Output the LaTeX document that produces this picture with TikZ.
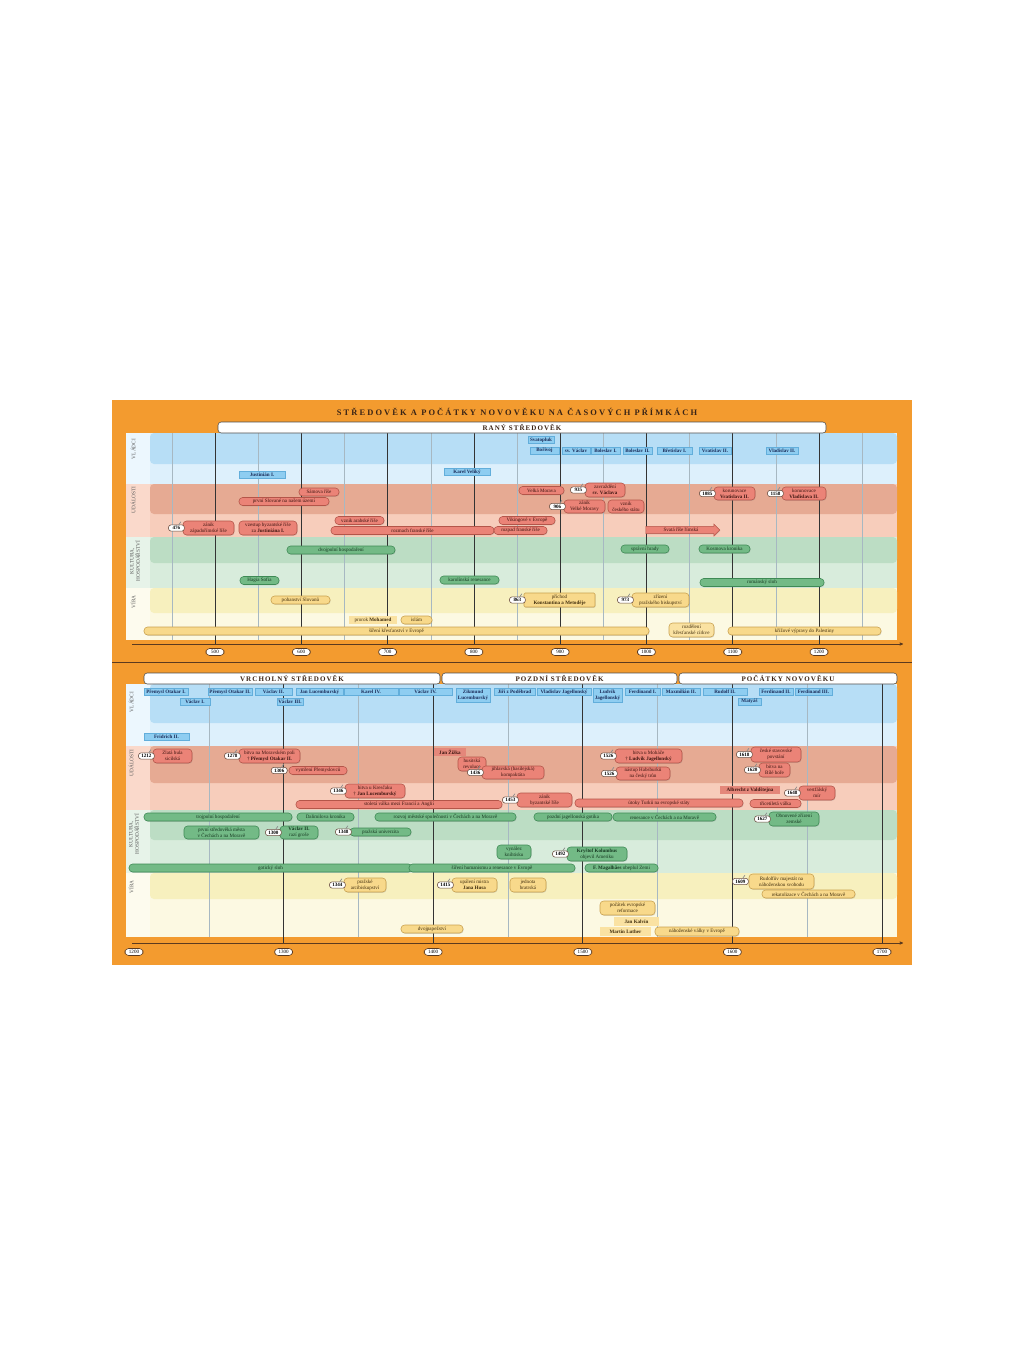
\documentclass[tikz,border=0pt]{standalone}
\usepackage{fontspec}
\setmainfont{Liberation Serif}
\newfontfamily\posterfont[LetterSpace=25]{Liberation Serif}
\newfontfamily\erafont[LetterSpace=15]{Liberation Serif}
\newcommand{\itemfont}{\fontsize{3.6}{4.1}\selectfont}
\newcommand{\rowfont}{\fontsize{3.8}{4.4}\selectfont}
\usepackage{tikz}
\usetikzlibrary{positioning,arrows.meta,shapes.arrows,shadows}

\definecolor{poster}{HTML}{F39B2F}
\definecolor{titletext}{HTML}{3A2416}
\definecolor{boardline}{HTML}{4D4D4D}
\definecolor{rowtext}{HTML}{5A5A5A}
\definecolor{deepblue}{HTML}{B7DEF6}
\definecolor{paleblue}{HTML}{DDF0FC}
\definecolor{labelblue}{HTML}{ECF7FE}
\definecolor{deepred}{HTML}{E6AA93}
\definecolor{palered}{HTML}{F7CDBB}
\definecolor{labelred}{HTML}{FAD9CB}
\definecolor{deepgreen}{HTML}{BCDDC4}
\definecolor{palegreen}{HTML}{D8ECDC}
\definecolor{labelgreen}{HTML}{E7F3E9}
\definecolor{deepyellow}{HTML}{F7F0BE}
\definecolor{paleyellow}{HTML}{FCF9E2}
\definecolor{labelyellow}{HTML}{FDFBEE}
\definecolor{rulerfill}{HTML}{8ECDF1}
\definecolor{rulerline}{HTML}{62AEDB}
\definecolor{rulertext}{HTML}{1C2D5A}
\definecolor{eventfill}{HTML}{EB8377}
\definecolor{eventline}{HTML}{B45549}
\definecolor{eventtext}{HTML}{3E1611}
\definecolor{eventflatfill}{HTML}{E4877A}
\definecolor{culturefill}{HTML}{73BA86}
\definecolor{cultureline}{HTML}{3E8A55}
\definecolor{culturetext}{HTML}{173A22}
\definecolor{faithfill}{HTML}{F8D98B}
\definecolor{faithline}{HTML}{C9A14F}
\definecolor{faithtext}{HTML}{43300F}
\definecolor{faithflatfill}{HTML}{FAE2A2}
\definecolor{tagline}{HTML}{6A4D3F}
\definecolor{clasp}{HTML}{8C8C8C}
\definecolor{axisline}{HTML}{5B3A1F}
\definecolor{gridblack}{HTML}{333333}
\definecolor{gridgrey}{HTML}{A7B8C2}

\tikzset{
    >=Stealth[round],
    span/.style = {minimum width = #1*0.25mm},
    tall/.style = {minimum height = #1*0.25mm},
    entry/.style = {inner sep = 0pt, font = \itemfont, align = center, minimum height = 2mm},
    ruler/.style = {entry, draw = rulerline, fill = rulerfill, text = rulertext,
                    font = \itemfont\bfseries, minimum height = 1.75mm},
    pill/.style = {entry, rounded corners = 0.9mm,
                   drop shadow = {shadow xshift = 0.15mm, shadow yshift = -0.2mm, opacity = 0.25}},
    event/.style = {pill, draw = eventline, fill = eventfill, text = eventtext},
    eventflat/.style = {entry, fill = eventflatfill, text = eventtext, font = \itemfont\bfseries},
    culture/.style = {pill, draw = cultureline, fill = culturefill, text = culturetext},
    faith/.style = {pill, draw = faithline, fill = faithfill, text = faithtext},
    faithflat/.style = {entry, fill = faithflatfill, text = faithtext},
    yeartag/.style = {entry, draw = tagline, fill = white, text = black, font = \itemfont\bfseries,
                      rounded corners = 0.7mm, minimum width = 4mm, minimum height = 1.6mm,
                      pin = {[inner sep = 0pt, minimum size = 0pt, pin distance = 0.8mm,
                              pin edge = {draw = clasp, line width = 0.5pt, line cap = round}]55:{}}},
    yearbox/.style = {entry, draw = axisline, fill = white, text = black,
                      rounded corners = 0.9mm, minimum width = 4.5mm, minimum height = 1.75mm},
    eraboard/.style = {draw = boardline, fill = white, rounded corners = 0.8mm, text = titletext,
                       font = {\erafont\bfseries\fontsize{5}{6}\selectfont},
                       minimum height = 2.75mm, inner sep = 0pt},
    rowname/.style = {rotate = 90, font = \rowfont, text = rowtext, align = center, inner sep = 0pt},
    axis/.style = {draw = axisline, line width = 0.5pt, -{Stealth[round, length = 1.2mm, width = 1mm]}},
    centline/.style = {draw = gridblack, line width = 0.45pt},
    halfline/.style = {draw = gridgrey, line width = 0.3pt},
}

\begin{document}
\begin{tikzpicture}[x = 0.25mm, y = -0.25mm]
\useasboundingbox (0,0) rectangle (1024,1365);
\fill[poster] (112,400) rectangle (912,965);

% rows of both panels
\foreach \ya/\yb/\yc/\tone in {433/464/484/blue, 484/514/537/red, 537/563/588/green, 588/613/640/yellow,
                               684/723/746/blue, 746/783/810/red, 810/840/873/green, 873/899/937/yellow} {
    \fill[fill = pale\tone] (126,\ya) rectangle (897,\yc);
    \fill[fill = label\tone] (126,\ya) rectangle (150,\yc);
    \fill[fill = deep\tone, rounded corners = 1mm] (150,\ya) rectangle (897,\yb);
}

% century lines
\foreach \yr in {450,550,...,1250}
    \draw[halfline] ({215+(\yr-500)*0.8629},433) -- ({215+(\yr-500)*0.8629},640);
\foreach \yr in {500,600,...,1200}
    \draw[centline] ({215+(\yr-500)*0.8629},433) -- ({215+(\yr-500)*0.8629},644);
\foreach \yr in {1250,1350,...,1650}
    \draw[halfline] ({134+(\yr-1200)*1.496},684) -- ({134+(\yr-1200)*1.496},937);
\foreach \yr in {1300,1400,...,1700}
    \draw[centline] ({134+(\yr-1200)*1.496},684) -- ({134+(\yr-1200)*1.496},943);

% axes
\coordinate (topstart) at (132,644);
\coordinate (topend) at (903,644);
\coordinate (lowstart) at (132,943);
\coordinate (lowend) at (903,943);
\draw[axis] (topstart) -- (topend);
\draw[axis] (lowstart) -- (lowend);
\draw[axisline, line width = 0.6pt] (112,662) -- (912,662);

\foreach \yr in {500,600,...,1200}
    \node[yearbox] (top\yr) at ({215+(\yr-500)*0.8629},652) {\yr};
\foreach \yr in {1200,1300,...,1700}
    \node[yearbox] (low\yr) at ({134+(\yr-1200)*1.496},952) {\yr};

% headings
\node[font = {\posterfont\bfseries\fontsize{6}{7}\selectfont}, text = titletext] (title) at (517,412)
    {STŘEDOVĚK A POČÁTKY NOVOVĚKU NA ČASOVÝCH PŘÍMKÁCH};
\node[eraboard, span = 608] (rany) at (522,427.5) {RANÝ STŘEDOVĚK};
\node[eraboard, span = 296] (vrcholny) at (292,678.5) {VRCHOLNÝ STŘEDOVĚK};
\node[eraboard, span = 235] (pozdni) at (559.5,678.5) {POZDNÍ STŘEDOVĚK};
\node[eraboard, span = 218] (pocatky) at (788,678.5) {POČÁTKY NOVOVĚKU};

\node[rowname] (vladciA) at (133,449) {VLÁDCI};
\node[rowname] (udalostiA) at (133,500) {UDÁLOSTI};
\node[rowname] (kulturaA) at (135,561) {KULTURA,\\HOSPODÁŘSTVÍ};
\node[rowname] (viraA) at (133,602) {VÍRA};
\node[rowname] (vladciB) at (131,702) {VLÁDCI};
\node[rowname] (udalostiB) at (131,763) {UDÁLOSTI};
\node[rowname] (kulturaB) at (134,834) {KULTURA,\\HOSPODÁŘSTVÍ};
\node[rowname] (viraB) at (131,887) {VÍRA};

% raný středověk -- vládci
\node[ruler, span = 26] (svatopluk) at (541,440) {Svatopluk};
\node[ruler, span = 29] (borivoj) at (544.5,450.5) {Bořivoj};
\node[ruler, span = 28] (svvaclav) at (576,450.5) {sv. Václav};
\node[ruler, span = 29] (boleslav1) at (605.5,450.5) {Boleslav I.};
\node[ruler, span = 29] (boleslav2) at (637.5,450.5) {Boleslav II.};
\node[ruler, span = 35] (bretislav) at (674.5,450.5) {Břetislav I.};
\node[ruler, span = 32] (vratislav) at (715,450.5) {Vratislav II.};
\node[ruler, span = 32] (vladislav) at (782,450.5) {Vladislav II.};
\node[ruler, span = 46] (justinian) at (262,474.5) {Justinián I.};
\node[ruler, span = 46] (karel) at (467,472) {Karel Veliký};

% raný středověk -- události
\node[event, span = 40] (samo) at (319,492) {Sámova říše};
\node[event, span = 90] (slovane) at (284,501.5) {první Slované na našem území};
\node[event, span = 51, tall = 14] (rim) at (208.5,528) {zánik\\západořímské říše};
\node[event, span = 58, tall = 14] (byzanc) at (268,528) {vzestup byzantské říše\\za \textbf{Justiniána I.}};
\node[event, span = 49] (arabove) at (359.5,520.5) {vznik arabské říše};
\node[event, span = 163] (franci) at (412.5,530.5) {rozmach franské říše};
\node[event, span = 56] (vikingove) at (527,520.5) {Vikingové v Evropě};
\node[event, span = 53] (rozpad) at (520.5,530.5) {rozpad franské říše};
\node[event, span = 45] (morava) at (541.5,490.5) {Velká Morava};
\node[event, span = 40, tall = 14] (vrazda) at (605,490) {zavraždění\\\textbf{sv. Václava}};
\node[event, span = 41, tall = 13] (zanikvm) at (584.5,506.5) {zánik\\Velké Moravy};
\node[event, span = 36, tall = 13] (cechy) at (626,506.5) {vznik\\českého státu};
\node[event, single arrow, sharp corners, single arrow head extend = 0.6mm,
      minimum height = 18.5mm, minimum width = 3mm, inner xsep = 1mm, inner ysep = 0.35mm]
    (rise) at (681,530) {Svatá říše římská};
\node[event, span = 41, tall = 13] (kor1085) at (734.5,493.5) {korunovace\\\textbf{Vratislava II.}};
\node[event, span = 44, tall = 13] (kor1158) at (804,493.5) {korunovace\\\textbf{Vladislava II.}};

% raný středověk -- kultura
\node[culture, span = 108] (dvojpole) at (341,550) {dvojpolní hospodaření};
\node[culture, span = 48] (hrady) at (645,549) {správní hrady};
\node[culture, span = 51] (kosmas) at (724.5,549) {Kosmova kronika};
\node[culture, span = 39] (sofia) at (259.5,580.5) {Hagia Sofia};
\node[culture, span = 59] (karolinska) at (469.5,580) {karolínská renesance};
\node[culture, span = 124] (romanika) at (762,582.5) {románský sloh};

% raný středověk -- víra
\node[faith, span = 59] (pohanstvi) at (300.5,600) {pohanství Slovanů};
\node[faith, span = 71, tall = 14, rounded corners = 0.3mm] (misie) at (559.5,600) {příchod\\\textbf{Konstantina a Metoděje}};
\node[faith, span = 57, tall = 14] (biskupstvi) at (660.5,600) {zřízení\\pražského biskupství};
\node[faithflat, span = 48] (mohamed) at (373,620) {prorok \textbf{Mohamed}};
\node[faith, span = 31] (islam) at (416.5,620) {islám};
\node[faith, span = 505] (krestanstvi) at (396.5,631) {šíření křesťanství v Evropě};
\node[faith, span = 45, tall = 14, fill = faithflatfill] (schizma) at (691.5,630) {rozdělení\\křesťanské církve};
\node[faith, span = 153] (krizaci) at (804.5,631) {křížové výpravy do Palestiny};

\node[yeartag, left = -0.5mm of rim] (t476) {476};
\node[yeartag, left = -0.5mm of vrazda] (t935) {935};
\node[yeartag, left = -0.5mm of zanikvm] (t906) {906};
\node[yeartag, left = -0.5mm of kor1085] (t1085) {1085};
\node[yeartag, left = -0.5mm of kor1158] (t1158) {1158};
\node[yeartag, left = -0.5mm of misie] (t863) {863};
\node[yeartag, left = -0.5mm of biskupstvi] (t973) {973};

% vrcholný a pozdní středověk, počátky novověku -- vládci
\node[ruler, span = 44] (otakar1) at (166,692) {Přemysl Otakar I.};
\node[ruler, span = 30] (vaclav1) at (195,701.5) {Václav I.};
\node[ruler, span = 44] (otakar2) at (230,692) {Přemysl Otakar II.};
\node[ruler, span = 37] (vaclav2) at (273.5,692) {Václav II.};
\node[ruler, span = 26] (vaclav3) at (290,701.5) {Václav III.};
\node[ruler, span = 47] (janl) at (319.5,692) {Jan Lucemburský};
\node[ruler, span = 54] (karel4) at (371,692) {Karel IV.};
\node[ruler, span = 53] (vaclav4) at (425.5,692) {Václav IV.};
\node[ruler, span = 34, tall = 14] (zikmund) at (473,695) {Zikmund\\Lucemburský};
\node[ruler, span = 41] (jiri) at (514.5,692) {Jiří z Poděbrad};
\node[ruler, span = 54] (vladislavj) at (564,692) {Vladislav Jagellonský};
\node[ruler, span = 29, tall = 14] (ludvik) at (607.5,695) {Ludvík\\Jagellonský};
\node[ruler, span = 35] (ferdinand1) at (642.5,692) {Ferdinand I.};
\node[ruler, span = 38] (maxmilian) at (681,692) {Maxmilián II.};
\node[ruler, span = 44] (rudolf) at (725,692) {Rudolf II.};
\node[ruler, span = 23] (matyas) at (749.5,701.5) {Matyáš};
\node[ruler, span = 34] (ferdinand2) at (776,692) {Ferdinand II.};
\node[ruler, span = 37] (ferdinand3) at (813.5,692) {Ferdinand III.};
\node[ruler, span = 45] (fridrich) at (166.5,736.5) {Fridrich II.};

% události
\node[event, span = 39, tall = 14] (bula) at (172.5,756) {Zlatá bula\\sicilská};
\node[event, span = 61, tall = 14] (morpole) at (269.5,756) {bitva na Moravském poli\\† \textbf{Přemysl Otakar II.}};
\node[event, span = 58] (vymreni) at (318,770.5) {vymření Přemyslovců};
\node[event, span = 60, tall = 14] (kresak) at (375,791) {bitva u Kresčaku\\† \textbf{Jan Lucemburský}};
\node[event, span = 206] (stoleta) at (399,804.5) {stoletá válka mezi Francií a Anglií};
\node[eventflat, span = 32] (zizka) at (450,752) {Jan Žižka};
\node[event, span = 28, tall = 14] (husite) at (472,764) {husitská\\revoluce};
\node[event, span = 62, tall = 13] (kompaktata) at (513,772.5) {jihlavská (basilejská)\\kompaktáta};
\node[event, span = 55, tall = 14] (carihrad) at (544.5,800) {zánik\\byzantské říše};
\node[event, span = 168] (turci) at (659,803) {útoky Turků na evropské státy};
\node[event, span = 67, tall = 14] (mohac) at (648.5,756) {bitva u Moháče\\† \textbf{Ludvík Jagellonský}};
\node[event, span = 54, tall = 13] (habsburk) at (643,773.5) {nástup Habsburků\\na český trůn};
\node[event, span = 50, tall = 15] (povstani) at (776,754.5) {české stavovské\\povstání};
\node[event, span = 31, tall = 14] (bilahora) at (774.5,770) {bitva na\\Bílé hoře};
\node[eventflat, span = 60] (valdstejn) at (750,790) {Albrecht z Valdštejna};
\node[event, span = 36, tall = 14] (vestfal) at (817,793) {vestfálský\\mír};
\node[event, span = 51] (tricetileta) at (775.5,803.5) {třicetiletá válka};

% kultura, hospodářství
\node[culture, span = 148] (trojpole) at (218,817) {trojpolní hospodaření};
\node[culture, span = 57] (dalimil) at (325.5,817) {Dalimilova kronika};
\node[culture, span = 141] (rozvoj) at (445.5,817) {rozvoj městské společnosti v Čechách a na Moravě};
\node[culture, span = 78] (gotika) at (573,817) {pozdní jagellonská gotika};
\node[culture, span = 103] (renesance) at (664.5,817) {renesance v Čechách a na Moravě};
\node[culture, span = 75, tall = 13] (mesta) at (221.5,832.5) {první středověká města\\v Čechách a na Moravě};
\node[culture, span = 38, tall = 13] (grose) at (299,832.5) {\textbf{Václav II.}\\razí groše};
\node[culture, span = 61] (univerzita) at (380.5,832) {pražská univerzita};
\node[culture, span = 34, tall = 14] (knihtisk) at (514,852) {vynález\\knihtisku};
\node[culture, span = 60, tall = 14] (kolumbus) at (597,854) {\textbf{Kryštof Kolumbus}\\objevil Ameriku};
\node[culture, span = 283] (goticky) at (270.5,868) {gotický sloh};
\node[culture, span = 166] (humanismus) at (492,868) {šíření humanismu a renesance v Evropě};
\node[culture, span = 73] (magalhaes) at (621.5,868) {\textbf{F. Magalhães} obeplul Zemi};
\node[culture, span = 50, tall = 14] (zrizeni) at (794,819) {Obnovené zřízení\\zemské};

% víra
\node[faith, span = 42, tall = 14] (arcibiskupstvi) at (365,885) {pražské\\arcibiskupství};
\node[faith, span = 45, tall = 14] (hus) at (474.5,885) {upálení mistra\\\textbf{Jana Husa}};
\node[faith, span = 36, tall = 14] (jednota) at (528,885) {jednota\\bratrská};
\node[faith, span = 62] (schizma2) at (432,929) {dvojpapežství};
\node[faith, span = 55, tall = 14] (reformace) at (627.5,908) {počátek evropské\\reformace};
\node[faithflat, span = 45, tall = 9, font = \itemfont\bfseries] (kalvin) at (636.5,921.5) {Jan Kalvín};
\node[faithflat, span = 51, tall = 9, font = \itemfont\bfseries] (luther) at (625.5,931.5) {Martin Luther};
\node[faith, span = 84, tall = 9] (valky) at (697,931.5) {náboženské války v Evropě};
\node[faith, span = 65, tall = 15] (majestat) at (781.5,881.5) {Rudolfův majestát na\\náboženskou svobodu};
\node[faith, span = 93] (rekatolizace) at (808.5,894) {rekatolizace v Čechách a na Moravě};

\node[yeartag, left = -0.5mm of bula] (t1212) {1212};
\node[yeartag, left = -0.5mm of morpole] (t1278) {1278};
\node[yeartag, left = 0.3mm of vymreni] (t1306) {1306};
\node[yeartag, left = -0.5mm of kresak] (t1346) {1346};
\node[yeartag, left = -0.5mm of kompaktata] (t1436) {1436};
\node[yeartag, left = -0.5mm of carihrad] (t1453) {1453};
\node[yeartag, left = -0.5mm of mohac] (t1526a) {1526};
\node[yeartag, left = -0.5mm of habsburk] (t1526b) {1526};
\node[yeartag, left = -0.5mm of povstani] (t1618) {1618};
\node[yeartag, left = -0.5mm of bilahora] (t1620) {1620};
\node[yeartag, left = -0.5mm of vestfal] (t1648) {1648};
\node[yeartag, left = -0.5mm of grose] (t1300) {1300};
\node[yeartag, left = -0.5mm of univerzita] (t1348) {1348};
\node[yeartag, left = -0.5mm of kolumbus] (t1492) {1492};
\node[yeartag, left = -0.5mm of zrizeni] (t1627) {1627};
\node[yeartag, left = -0.5mm of arcibiskupstvi] (t1344) {1344};
\node[yeartag, left = -0.5mm of hus] (t1415) {1415};
\node[yeartag, left = 0mm of majestat] (t1609) {1609};
\end{tikzpicture}
\end{document}
